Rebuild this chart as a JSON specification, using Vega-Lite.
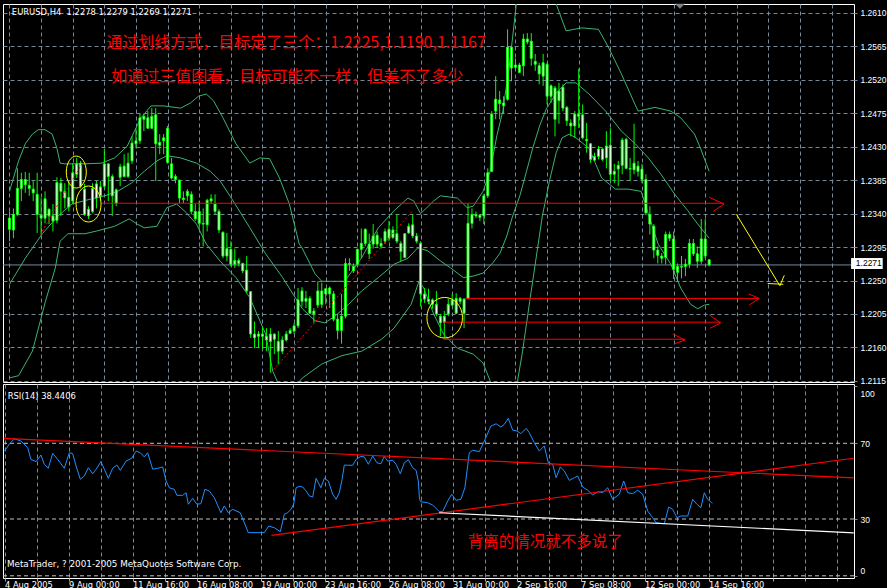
{
"$schema":"https://vega.github.io/schema/vega-lite/v6.json",
"background":"#000000",
"padding":{"left":2,"top":3,"right":0,"bottom":0},
"autosize":{"type":"pad"},
"bounds":"flush",
"spacing":2,
"config":{"view":{"stroke":"#ffffff","strokeWidth":1},"font":"DejaVu Sans"},
"datasets":{
"candles":[
{"i":0,"o":1.2334,"h":1.2343,"l":1.2303,"c":1.2319},
{"i":1,"o":1.2318,"h":1.2347,"l":1.2307,"c":1.2339},
{"i":2,"o":1.2339,"h":1.2401,"l":1.2337,"c":1.2374},
{"i":3,"o":1.2374,"h":1.2395,"l":1.2357,"c":1.2386},
{"i":4,"o":1.2386,"h":1.2396,"l":1.2368,"c":1.2379},
{"i":5,"o":1.2378,"h":1.2395,"l":1.2364,"c":1.2374},
{"i":6,"o":1.2373,"h":1.2384,"l":1.2357,"c":1.2368},
{"i":7,"o":1.2366,"h":1.2395,"l":1.2314,"c":1.2339},
{"i":8,"o":1.2334,"h":1.2361,"l":1.2312,"c":1.2338},
{"i":9,"o":1.2334,"h":1.2370,"l":1.2327,"c":1.2360},
{"i":10,"o":1.2346,"h":1.2347,"l":1.2326,"c":1.2337},
{"i":11,"o":1.2337,"h":1.2353,"l":1.2316,"c":1.2330},
{"i":12,"o":1.2331,"h":1.2389,"l":1.2327,"c":1.2382},
{"i":13,"o":1.2381,"h":1.2388,"l":1.2337,"c":1.2370},
{"i":14,"o":1.2370,"h":1.2381,"l":1.2347,"c":1.2361},
{"i":15,"o":1.2362,"h":1.2384,"l":1.2343,"c":1.2349},
{"i":16,"o":1.2357,"h":1.2408,"l":1.2353,"c":1.2395},
{"i":17,"o":1.2393,"h":1.2415,"l":1.2388,"c":1.2407},
{"i":18,"o":1.2408,"h":1.2411,"l":1.2374,"c":1.2377},
{"i":19,"o":1.2373,"h":1.2380,"l":1.2337,"c":1.2339},
{"i":20,"o":1.2337,"h":1.2350,"l":1.2333,"c":1.2346},
{"i":21,"o":1.2343,"h":1.2381,"l":1.2341,"c":1.2374},
{"i":22,"o":1.2361,"h":1.2384,"l":1.2347,"c":1.2380},
{"i":23,"o":1.2376,"h":1.2384,"l":1.2357,"c":1.2364},
{"i":24,"o":1.2377,"h":1.2427,"l":1.2374,"c":1.2407},
{"i":25,"o":1.2407,"h":1.2408,"l":1.2357,"c":1.2390},
{"i":26,"o":1.2390,"h":1.2393,"l":1.2337,"c":1.2364},
{"i":27,"o":1.2354,"h":1.2374,"l":1.2350,"c":1.2372},
{"i":28,"o":1.2389,"h":1.2407,"l":1.2377,"c":1.2403},
{"i":29,"o":1.2390,"h":1.2420,"l":1.2389,"c":1.2404},
{"i":30,"o":1.2390,"h":1.2422,"l":1.2388,"c":1.2408},
{"i":31,"o":1.2411,"h":1.2444,"l":1.2407,"c":1.2435},
{"i":32,"o":1.2434,"h":1.2455,"l":1.2428,"c":1.2438},
{"i":33,"o":1.2438,"h":1.2474,"l":1.2434,"c":1.2469},
{"i":34,"o":1.2471,"h":1.2474,"l":1.2451,"c":1.2467},
{"i":35,"o":1.2469,"h":1.2478,"l":1.2454,"c":1.2455},
{"i":36,"o":1.2455,"h":1.2482,"l":1.2454,"c":1.2471},
{"i":37,"o":1.2473,"h":1.2482,"l":1.2384,"c":1.2434},
{"i":38,"o":1.2436,"h":1.2447,"l":1.2420,"c":1.2432},
{"i":39,"o":1.2438,"h":1.2447,"l":1.2420,"c":1.2442},
{"i":40,"o":1.2455,"h":1.2458,"l":1.2407,"c":1.2409},
{"i":41,"o":1.2407,"h":1.2415,"l":1.2386,"c":1.2388},
{"i":42,"o":1.2390,"h":1.2393,"l":1.2381,"c":1.2386},
{"i":43,"o":1.2385,"h":1.2386,"l":1.2354,"c":1.2361},
{"i":44,"o":1.2361,"h":1.2370,"l":1.2354,"c":1.2359},
{"i":45,"o":1.2364,"h":1.2373,"l":1.2357,"c":1.2370},
{"i":46,"o":1.2366,"h":1.2370,"l":1.2339,"c":1.2343},
{"i":47,"o":1.2343,"h":1.2353,"l":1.2330,"c":1.2333},
{"i":48,"o":1.2327,"h":1.2357,"l":1.2320,"c":1.2343},
{"i":49,"o":1.2327,"h":1.2347,"l":1.2296,"c":1.2326},
{"i":50,"o":1.2325,"h":1.2360,"l":1.2316,"c":1.2358},
{"i":51,"o":1.2357,"h":1.2366,"l":1.2353,"c":1.2360},
{"i":52,"o":1.2353,"h":1.2366,"l":1.2339,"c":1.2343},
{"i":53,"o":1.2343,"h":1.2346,"l":1.2314,"c":1.2318},
{"i":54,"o":1.2315,"h":1.2316,"l":1.2280,"c":1.2283},
{"i":55,"o":1.2283,"h":1.2314,"l":1.2276,"c":1.2293},
{"i":56,"o":1.2292,"h":1.2303,"l":1.2269,"c":1.2272},
{"i":57,"o":1.2272,"h":1.2293,"l":1.2267,"c":1.2277},
{"i":58,"o":1.2277,"h":1.2280,"l":1.2269,"c":1.2273},
{"i":59,"o":1.2273,"h":1.2274,"l":1.2260,"c":1.2263},
{"i":60,"o":1.2264,"h":1.2283,"l":1.2233,"c":1.2236},
{"i":61,"o":1.2235,"h":1.2236,"l":1.2173,"c":1.2178},
{"i":62,"o":1.2178,"h":1.2195,"l":1.2159,"c":1.2173},
{"i":63,"o":1.2175,"h":1.2182,"l":1.2159,"c":1.2178},
{"i":64,"o":1.2178,"h":1.2186,"l":1.2158,"c":1.2175},
{"i":65,"o":1.2175,"h":1.2186,"l":1.2155,"c":1.2170},
{"i":66,"o":1.2168,"h":1.2186,"l":1.2126,"c":1.2178},
{"i":67,"o":1.2178,"h":1.2179,"l":1.2151,"c":1.2171},
{"i":68,"o":1.2168,"h":1.2182,"l":1.2137,"c":1.2155},
{"i":69,"o":1.2155,"h":1.2175,"l":1.2151,"c":1.2170},
{"i":70,"o":1.2170,"h":1.2182,"l":1.2168,"c":1.2178},
{"i":71,"o":1.2179,"h":1.2186,"l":1.2178,"c":1.2183},
{"i":72,"o":1.2182,"h":1.2193,"l":1.2178,"c":1.2189},
{"i":73,"o":1.2189,"h":1.2240,"l":1.2186,"c":1.2224},
{"i":74,"o":1.2222,"h":1.2241,"l":1.2215,"c":1.2236},
{"i":75,"o":1.2226,"h":1.2236,"l":1.2213,"c":1.2222},
{"i":76,"o":1.2226,"h":1.2229,"l":1.2205,"c":1.2206},
{"i":77,"o":1.2205,"h":1.2213,"l":1.2193,"c":1.2209},
{"i":78,"o":1.2217,"h":1.2249,"l":1.2213,"c":1.2236},
{"i":79,"o":1.2236,"h":1.2247,"l":1.2213,"c":1.2218},
{"i":80,"o":1.2232,"h":1.2240,"l":1.2218,"c":1.2239},
{"i":81,"o":1.2232,"h":1.2242,"l":1.2213,"c":1.2240},
{"i":82,"o":1.2232,"h":1.2236,"l":1.2195,"c":1.2198},
{"i":83,"o":1.2198,"h":1.2205,"l":1.2171,"c":1.2183},
{"i":84,"o":1.2183,"h":1.2232,"l":1.2165,"c":1.2202},
{"i":85,"o":1.2202,"h":1.2280,"l":1.2199,"c":1.2273},
{"i":86,"o":1.2273,"h":1.2280,"l":1.2263,"c":1.2272},
{"i":87,"o":1.2269,"h":1.2273,"l":1.2260,"c":1.2263},
{"i":88,"o":1.2272,"h":1.2293,"l":1.2269,"c":1.2292},
{"i":89,"o":1.2292,"h":1.2320,"l":1.2280,"c":1.2300},
{"i":90,"o":1.2300,"h":1.2320,"l":1.2296,"c":1.2319},
{"i":91,"o":1.2299,"h":1.2313,"l":1.2279,"c":1.2286},
{"i":92,"o":1.2299,"h":1.2326,"l":1.2293,"c":1.2310},
{"i":93,"o":1.2311,"h":1.2316,"l":1.2295,"c":1.2299},
{"i":94,"o":1.2300,"h":1.2307,"l":1.2293,"c":1.2296},
{"i":95,"o":1.2303,"h":1.2320,"l":1.2299,"c":1.2316},
{"i":96,"o":1.2307,"h":1.2330,"l":1.2303,"c":1.2319},
{"i":97,"o":1.2318,"h":1.2323,"l":1.2306,"c":1.2308},
{"i":98,"o":1.2313,"h":1.2339,"l":1.2300,"c":1.2303},
{"i":99,"o":1.2300,"h":1.2303,"l":1.2276,"c":1.2289},
{"i":100,"o":1.2281,"h":1.2314,"l":1.2280,"c":1.2313},
{"i":101,"o":1.2314,"h":1.2327,"l":1.2313,"c":1.2323},
{"i":102,"o":1.2325,"h":1.2339,"l":1.2307,"c":1.2310},
{"i":103,"o":1.2310,"h":1.2314,"l":1.2300,"c":1.2303},
{"i":104,"o":1.2300,"h":1.2303,"l":1.2215,"c":1.2232},
{"i":105,"o":1.2232,"h":1.2240,"l":1.2220,"c":1.2225},
{"i":106,"o":1.2225,"h":1.2239,"l":1.2218,"c":1.2222},
{"i":107,"o":1.2224,"h":1.2226,"l":1.2212,"c":1.2218},
{"i":108,"o":1.2218,"h":1.2236,"l":1.2202,"c":1.2205},
{"i":109,"o":1.2202,"h":1.2205,"l":1.2175,"c":1.2193},
{"i":110,"o":1.2194,"h":1.2209,"l":1.2173,"c":1.2202},
{"i":111,"o":1.2205,"h":1.2226,"l":1.2202,"c":1.2218},
{"i":112,"o":1.2217,"h":1.2232,"l":1.2215,"c":1.2224},
{"i":113,"o":1.2206,"h":1.2233,"l":1.2205,"c":1.2226},
{"i":114,"o":1.2226,"h":1.2228,"l":1.2218,"c":1.2222},
{"i":115,"o":1.2206,"h":1.2226,"l":1.2186,"c":1.2225},
{"i":116,"o":1.2226,"h":1.2354,"l":1.2225,"c":1.2327},
{"i":117,"o":1.2327,"h":1.2347,"l":1.2320,"c":1.2339},
{"i":118,"o":1.2339,"h":1.2343,"l":1.2334,"c":1.2337},
{"i":119,"o":1.2335,"h":1.2339,"l":1.2330,"c":1.2338},
{"i":120,"o":1.2337,"h":1.2366,"l":1.2326,"c":1.2364},
{"i":121,"o":1.2364,"h":1.2401,"l":1.2361,"c":1.2395},
{"i":122,"o":1.2397,"h":1.2478,"l":1.2396,"c":1.2474},
{"i":123,"o":1.2478,"h":1.2525,"l":1.2467,"c":1.2494},
{"i":124,"o":1.2493,"h":1.2505,"l":1.2467,"c":1.2488},
{"i":125,"o":1.2485,"h":1.2498,"l":1.2474,"c":1.2489},
{"i":126,"o":1.2494,"h":1.2588,"l":1.2492,"c":1.2564},
{"i":127,"o":1.2564,"h":1.2566,"l":1.2518,"c":1.2536},
{"i":128,"o":1.2537,"h":1.2549,"l":1.2536,"c":1.2540},
{"i":129,"o":1.2540,"h":1.2543,"l":1.2529,"c":1.2530},
{"i":130,"o":1.2539,"h":1.2582,"l":1.2525,"c":1.2575},
{"i":131,"o":1.2575,"h":1.2583,"l":1.2568,"c":1.2571},
{"i":132,"o":1.2572,"h":1.2583,"l":1.2539,"c":1.2549},
{"i":133,"o":1.2545,"h":1.2555,"l":1.2532,"c":1.2541},
{"i":134,"o":1.2539,"h":1.2543,"l":1.2514,"c":1.2528},
{"i":135,"o":1.2525,"h":1.2555,"l":1.2512,"c":1.2543},
{"i":136,"o":1.2541,"h":1.2543,"l":1.2487,"c":1.2498},
{"i":137,"o":1.2498,"h":1.2514,"l":1.2489,"c":1.2512},
{"i":138,"o":1.2509,"h":1.2512,"l":1.2444,"c":1.2467},
{"i":139,"o":1.2492,"h":1.2516,"l":1.2461,"c":1.2505},
{"i":140,"o":1.2510,"h":1.2514,"l":1.2478,"c":1.2482},
{"i":141,"o":1.2483,"h":1.2485,"l":1.2458,"c":1.2465},
{"i":142,"o":1.2462,"h":1.2467,"l":1.2444,"c":1.2458},
{"i":143,"o":1.2458,"h":1.2478,"l":1.2442,"c":1.2474},
{"i":144,"o":1.2474,"h":1.2535,"l":1.2455,"c":1.2471},
{"i":145,"o":1.2473,"h":1.2487,"l":1.2440,"c":1.2442},
{"i":146,"o":1.2440,"h":1.2462,"l":1.2422,"c":1.2438},
{"i":147,"o":1.2434,"h":1.2435,"l":1.2408,"c":1.2413},
{"i":148,"o":1.2412,"h":1.2422,"l":1.2411,"c":1.2417},
{"i":149,"o":1.2417,"h":1.2431,"l":1.2413,"c":1.2427},
{"i":150,"o":1.2427,"h":1.2428,"l":1.2411,"c":1.2413},
{"i":151,"o":1.2415,"h":1.2451,"l":1.2401,"c":1.2431},
{"i":152,"o":1.2432,"h":1.2455,"l":1.2384,"c":1.2393},
{"i":153,"o":1.2393,"h":1.2407,"l":1.2381,"c":1.2397},
{"i":154,"o":1.2400,"h":1.2411,"l":1.2377,"c":1.2405},
{"i":155,"o":1.2405,"h":1.2442,"l":1.2393,"c":1.2439},
{"i":156,"o":1.2440,"h":1.2442,"l":1.2400,"c":1.2401},
{"i":157,"o":1.2401,"h":1.2415,"l":1.2384,"c":1.2400},
{"i":158,"o":1.2399,"h":1.2461,"l":1.2393,"c":1.2408},
{"i":159,"o":1.2404,"h":1.2411,"l":1.2390,"c":1.2397},
{"i":160,"o":1.2400,"h":1.2407,"l":1.2381,"c":1.2386},
{"i":161,"o":1.2386,"h":1.2393,"l":1.2338,"c":1.2341},
{"i":162,"o":1.2339,"h":1.2350,"l":1.2312,"c":1.2326},
{"i":163,"o":1.2323,"h":1.2326,"l":1.2280,"c":1.2291},
{"i":164,"o":1.2291,"h":1.2296,"l":1.2273,"c":1.2284},
{"i":165,"o":1.2283,"h":1.2287,"l":1.2273,"c":1.2280},
{"i":166,"o":1.2281,"h":1.2316,"l":1.2272,"c":1.2312},
{"i":167,"o":1.2312,"h":1.2316,"l":1.2303,"c":1.2307},
{"i":168,"o":1.2306,"h":1.2316,"l":1.2252,"c":1.2265},
{"i":169,"o":1.2261,"h":1.2273,"l":1.2249,"c":1.2269},
{"i":170,"o":1.2269,"h":1.2283,"l":1.2253,"c":1.2268},
{"i":171,"o":1.2269,"h":1.2279,"l":1.2256,"c":1.2272},
{"i":172,"o":1.2272,"h":1.2306,"l":1.2267,"c":1.2300},
{"i":173,"o":1.2300,"h":1.2306,"l":1.2283,"c":1.2286},
{"i":174,"o":1.2286,"h":1.2296,"l":1.2267,"c":1.2276},
{"i":175,"o":1.2276,"h":1.2333,"l":1.2272,"c":1.2306},
{"i":176,"o":1.2306,"h":1.2333,"l":1.2280,"c":1.2283},
{"i":177,"o":1.2278,"h":1.2279,"l":1.2269,"c":1.2271}
],
"bb":[
{"b":"u","i":0,"v":1.2370},{"b":"u","i":2.3,"v":1.2411},{"b":"u","i":4,"v":1.2434},{"b":"u","i":5.8,"v":1.2447},{"b":"u","i":7.3,"v":1.2453},{"b":"u","i":9,"v":1.2453},{"b":"u","i":10.8,"v":1.2447},{"b":"u","i":12,"v":1.2428},{"b":"u","i":12.8,"v":1.2408},{"b":"u","i":14,"v":1.2407},{"b":"u","i":19,"v":1.2407},{"b":"u","i":23.3,"v":1.2408},{"b":"u","i":26.6,"v":1.2415},{"b":"u","i":29.8,"v":1.2431},{"b":"u","i":31.6,"v":1.2451},{"b":"u","i":33.3,"v":1.2469},{"b":"u","i":35.8,"v":1.2485},{"b":"u","i":39,"v":1.2485},{"b":"u","i":43.3,"v":1.2482},{"b":"u","i":45.8,"v":1.2489},{"b":"u","i":47.8,"v":1.2498},{"b":"u","i":49.8,"v":1.2501},{"b":"u","i":51.6,"v":1.2492},{"b":"u","i":54,"v":1.2469},{"b":"u","i":57.3,"v":1.2434},{"b":"u","i":60.8,"v":1.2408},{"b":"u","i":63.3,"v":1.2415},{"b":"u","i":65.8,"v":1.2414},{"b":"u","i":68.3,"v":1.2388},{"b":"u","i":70.8,"v":1.2353},{"b":"u","i":73.3,"v":1.2299},{"b":"u","i":74,"v":1.2294},{"b":"u","i":77.3,"v":1.2259},{"b":"u","i":79,"v":1.2249},{"b":"u","i":84.8,"v":1.2249},{"b":"u","i":89,"v":1.2280},{"b":"u","i":93.3,"v":1.2321},{"b":"u","i":97.3,"v":1.2344},{"b":"u","i":100.8,"v":1.2361},{"b":"u","i":102.3,"v":1.2357},{"b":"u","i":104,"v":1.2340},{"b":"u","i":107.3,"v":1.2357},{"b":"u","i":109,"v":1.2364},{"b":"u","i":113.3,"v":1.2361},{"b":"u","i":115.8,"v":1.2348},{"b":"u","i":117.3,"v":1.2350},{"b":"u","i":119.8,"v":1.2370},{"b":"u","i":121.6,"v":1.2397},{"b":"u","i":123.3,"v":1.2445},{"b":"u","i":124.8,"v":1.2478},{"b":"u","i":126.6,"v":1.2545},{"b":"u","i":128.3,"v":1.2626},{"b":"u","i":129.8,"v":1.2653},{"b":"u","i":131.6,"v":1.2666},{"b":"u","i":134,"v":1.2666},{"b":"u","i":136.6,"v":1.2646},{"b":"u","i":138.3,"v":1.2622},{"b":"u","i":140.8,"v":1.2586},{"b":"u","i":144.8,"v":1.2590},{"b":"u","i":149,"v":1.2588},{"b":"u","i":151.6,"v":1.2563},{"b":"u","i":154.8,"v":1.2528},{"b":"u","i":159,"v":1.2478},{"b":"u","i":163.3,"v":1.2483},{"b":"u","i":167.3,"v":1.2478},{"b":"u","i":169.8,"v":1.2469},{"b":"u","i":173.3,"v":1.2447},{"b":"u","i":174.8,"v":1.2428},{"b":"u","i":177,"v":1.2397},
{"b":"m","i":0,"v":1.2245},{"b":"m","i":4,"v":1.2280},{"b":"m","i":8.3,"v":1.2313},{"b":"m","i":12.3,"v":1.2337},{"b":"m","i":15.8,"v":1.2353},{"b":"m","i":20.8,"v":1.2360},{"b":"m","i":24.1,"v":1.2364},{"b":"m","i":27.3,"v":1.2370},{"b":"m","i":30.8,"v":1.2381},{"b":"m","i":34.1,"v":1.2397},{"b":"m","i":37.3,"v":1.2411},{"b":"m","i":39.8,"v":1.2418},{"b":"m","i":43.3,"v":1.2415},{"b":"m","i":47.3,"v":1.2408},{"b":"m","i":50.8,"v":1.2397},{"b":"m","i":53.3,"v":1.2384},{"b":"m","i":56.6,"v":1.2357},{"b":"m","i":60.8,"v":1.2321},{"b":"m","i":64.8,"v":1.2286},{"b":"m","i":69.1,"v":1.2254},{"b":"m","i":72.3,"v":1.2227},{"b":"m","i":74.1,"v":1.2212},{"b":"m","i":77.3,"v":1.2196},{"b":"m","i":79.8,"v":1.2193},{"b":"m","i":82.3,"v":1.2202},{"b":"m","i":85.8,"v":1.2218},{"b":"m","i":89.1,"v":1.2236},{"b":"m","i":93.3,"v":1.2254},{"b":"m","i":97.3,"v":1.2272},{"b":"m","i":100.8,"v":1.2280},{"b":"m","i":103.3,"v":1.2294},{"b":"m","i":105.8,"v":1.2290},{"b":"m","i":109.1,"v":1.2276},{"b":"m","i":111.6,"v":1.2267},{"b":"m","i":114.8,"v":1.2254},{"b":"m","i":117.3,"v":1.2256},{"b":"m","i":119.8,"v":1.2260},{"b":"m","i":122.3,"v":1.2274},{"b":"m","i":124.1,"v":1.2287},{"b":"m","i":125.8,"v":1.2310},{"b":"m","i":127.3,"v":1.2337},{"b":"m","i":129.1,"v":1.2364},{"b":"m","i":130.8,"v":1.2397},{"b":"m","i":132.3,"v":1.2427},{"b":"m","i":134.1,"v":1.2458},{"b":"m","i":135.8,"v":1.2481},{"b":"m","i":138.3,"v":1.2502},{"b":"m","i":140.8,"v":1.2516},{"b":"m","i":143.3,"v":1.2516},{"b":"m","i":146.6,"v":1.2501},{"b":"m","i":150.8,"v":1.2478},{"b":"m","i":154.8,"v":1.2451},{"b":"m","i":158.3,"v":1.2434},{"b":"m","i":161.6,"v":1.2415},{"b":"m","i":164.8,"v":1.2393},{"b":"m","i":168.3,"v":1.2366},{"b":"m","i":171.6,"v":1.2344},{"b":"m","i":174.1,"v":1.2326},{"b":"m","i":177,"v":1.2307},
{"b":"l","i":0,"v":1.2119},{"b":"l","i":2.3,"v":1.2122},{"b":"l","i":5.8,"v":1.2155},{"b":"l","i":9.1,"v":1.2222},{"b":"l","i":11.6,"v":1.2267},{"b":"l","i":12.8,"v":1.2303},{"b":"l","i":14.8,"v":1.2313},{"b":"l","i":19.1,"v":1.2313},{"b":"l","i":22.3,"v":1.2317},{"b":"l","i":26.6,"v":1.2323},{"b":"l","i":30.3,"v":1.2333},{"b":"l","i":32.3,"v":1.2326},{"b":"l","i":34.1,"v":1.2321},{"b":"l","i":37.3,"v":1.2323},{"b":"l","i":39.8,"v":1.2348},{"b":"l","i":42.3,"v":1.2353},{"b":"l","i":44.8,"v":1.2341},{"b":"l","i":47.3,"v":1.2326},{"b":"l","i":49.8,"v":1.2299},{"b":"l","i":53.3,"v":1.2276},{"b":"l","i":57.3,"v":1.2254},{"b":"l","i":60.8,"v":1.2227},{"b":"l","i":64.8,"v":1.2178},{"b":"l","i":66.6,"v":1.2128},{"b":"l","i":68.3,"v":1.2108},{"b":"l","i":70.3,"v":1.2099},{"b":"l","i":72.1,"v":1.2107},{"b":"l","i":74.1,"v":1.2119},{"b":"l","i":79.1,"v":1.2138},{"b":"l","i":84.1,"v":1.2149},{"b":"l","i":89.1,"v":1.2155},{"b":"l","i":94.1,"v":1.2171},{"b":"l","i":97.3,"v":1.2186},{"b":"l","i":101.6,"v":1.2218},{"b":"l","i":103.6,"v":1.2249},{"b":"l","i":104.8,"v":1.2240},{"b":"l","i":107.3,"v":1.2205},{"b":"l","i":109.8,"v":1.2178},{"b":"l","i":113.3,"v":1.2159},{"b":"l","i":117.3,"v":1.2151},{"b":"l","i":119.8,"v":1.2139},{"b":"l","i":121.6,"v":1.2115},{"b":"l","i":123.3,"v":1.2099},{"b":"l","i":125.3,"v":1.2088},{"b":"l","i":127.1,"v":1.2091},{"b":"l","i":128.3,"v":1.2108},{"b":"l","i":129.8,"v":1.2155},{"b":"l","i":131.6,"v":1.2222},{"b":"l","i":133.3,"v":1.2283},{"b":"l","i":134.8,"v":1.2337},{"b":"l","i":136.6,"v":1.2384},{"b":"l","i":138.3,"v":1.2422},{"b":"l","i":139.8,"v":1.2442},{"b":"l","i":141.6,"v":1.2447},{"b":"l","i":143.3,"v":1.2442},{"b":"l","i":146.6,"v":1.2428},{"b":"l","i":149.8,"v":1.2388},{"b":"l","i":153.3,"v":1.2373},{"b":"l","i":156.6,"v":1.2373},{"b":"l","i":159.8,"v":1.2370},{"b":"l","i":161.6,"v":1.2340},{"b":"l","i":164.1,"v":1.2299},{"b":"l","i":167.3,"v":1.2272},{"b":"l","i":169.8,"v":1.2240},{"b":"l","i":172.3,"v":1.2218},{"b":"l","i":174.1,"v":1.2212},{"b":"l","i":175.8,"v":1.2217},{"b":"l","i":177,"v":1.2218}
],
"rsi":[
{"i":0,"r":65.9},{"i":1.2,"r":69.5},{"i":2.45,"r":72.4},{"i":4.1,"r":71.2},{"i":5.8,"r":67.7},{"i":6.6,"r":61.5},{"i":7.9,"r":60.3},{"i":9.1,"r":63.8},{"i":9.95,"r":58.9},{"i":10.95,"r":56.8},{"i":12.05,"r":64.7},{"i":13.3,"r":61.5},{"i":14.95,"r":56.8},{"i":16.2,"r":65.0},{"i":17.05,"r":64.5},{"i":17.9,"r":58.0},{"i":18.95,"r":51.0},{"i":19.95,"r":52.7},{"i":20.95,"r":57.1},{"i":22.05,"r":53.9},{"i":23.3,"r":57.5},{"i":24.1,"r":60.3},{"i":24.95,"r":56.3},{"i":25.95,"r":51.5},{"i":27.05,"r":56.8},{"i":28.1,"r":58.5},{"i":28.95,"r":55.7},{"i":30.4,"r":60.6},{"i":31.8,"r":62.1},{"i":32.9,"r":65.9},{"i":33.95,"r":65.0},{"i":34.95,"r":62.8},{"i":35.8,"r":65.0},{"i":37.05,"r":56.3},{"i":38.3,"r":56.8},{"i":39.55,"r":57.5},{"i":40.4,"r":50.1},{"i":41.2,"r":46.5},{"i":42.45,"r":45.7},{"i":43.1,"r":42.5},{"i":44.55,"r":42.5},{"i":45.4,"r":43.9},{"i":45.95,"r":37.8},{"i":47.05,"r":40.9},{"i":48.1,"r":37.8},{"i":49.1,"r":38.1},{"i":50.1,"r":45.7},{"i":51.2,"r":44.8},{"i":52.45,"r":41.3},{"i":54.1,"r":33.3},{"i":54.95,"r":36.9},{"i":55.95,"r":33.3},{"i":57.05,"r":35.1},{"i":58.95,"r":33.3},{"i":60.95,"r":22.8},{"i":64.95,"r":22.8},{"i":66.05,"r":26.3},{"i":67.45,"r":25.4},{"i":68.95,"r":23.3},{"i":69.95,"r":32.5},{"i":70.8,"r":33.3},{"i":71.6,"r":35.1},{"i":72.3,"r":37.8},{"i":72.9,"r":46.5},{"i":73.7,"r":47.3},{"i":74.55,"r":46.9},{"i":75.4,"r":44.8},{"i":76.2,"r":42.2},{"i":77.05,"r":41.6},{"i":77.9,"r":51.5},{"i":78.45,"r":49.2},{"i":79.1,"r":46.5},{"i":79.95,"r":51.5},{"i":80.95,"r":50.1},{"i":82.05,"r":43.1},{"i":82.9,"r":40.4},{"i":83.7,"r":43.9},{"i":84.4,"r":51.0},{"i":84.95,"r":58.5},{"i":85.8,"r":58.4},{"i":87.05,"r":58.4},{"i":87.9,"r":61.5},{"i":89.1,"r":63.1},{"i":89.95,"r":62.8},{"i":90.95,"r":58.9},{"i":92.05,"r":63.3},{"i":93.1,"r":59.7},{"i":94.1,"r":59.2},{"i":94.95,"r":63.1},{"i":95.8,"r":60.6},{"i":97.05,"r":61.0},{"i":97.9,"r":58.9},{"i":98.95,"r":53.9},{"i":99.95,"r":59.7},{"i":100.95,"r":61.3},{"i":102.05,"r":57.1},{"i":102.9,"r":55.7},{"i":103.45,"r":50.1},{"i":103.75,"r":40.4},{"i":104.1,"r":39.1},{"i":105.8,"r":38.6},{"i":107.05,"r":37.4},{"i":108.7,"r":33.9},{"i":109.55,"r":33.9},{"i":110.8,"r":39.5},{"i":111.8,"r":43.1},{"i":112.9,"r":39.9},{"i":114.1,"r":40.4},{"i":115.1,"r":46.5},{"i":116.2,"r":65.0},{"i":117.05,"r":66.3},{"i":118.7,"r":65.6},{"i":119.95,"r":71.2},{"i":121.6,"r":79.1},{"i":122.9,"r":80.3},{"i":124.1,"r":78.6},{"i":124.95,"r":80.0},{"i":125.95,"r":83.2},{"i":127.05,"r":76.9},{"i":128.1,"r":76.5},{"i":129.1,"r":75.1},{"i":130.4,"r":77.9},{"i":131.2,"r":75.6},{"i":132.45,"r":70.3},{"i":133.7,"r":65.9},{"i":134.95,"r":68.6},{"i":135.95,"r":59.7},{"i":137.05,"r":58.9},{"i":137.9,"r":51.8},{"i":138.95,"r":57.5},{"i":139.95,"r":55.4},{"i":141.2,"r":50.4},{"i":142.45,"r":51.8},{"i":143.3,"r":52.7},{"i":144.55,"r":46.9},{"i":145.8,"r":45.2},{"i":147.05,"r":42.7},{"i":148.3,"r":44.4},{"i":149.55,"r":43.9},{"i":150.8,"r":46.5},{"i":152.05,"r":40.4},{"i":153.7,"r":43.1},{"i":154.8,"r":50.1},{"i":155.8,"r":43.9},{"i":157.05,"r":43.4},{"i":158.3,"r":45.2},{"i":159.55,"r":43.1},{"i":160.8,"r":34.2},{"i":162.05,"r":30.7},{"i":162.9,"r":28.1},{"i":164.95,"r":27.5},{"i":166.05,"r":36.3},{"i":167.05,"r":35.1},{"i":168.1,"r":30.7},{"i":169.1,"r":31.6},{"i":170.8,"r":31.6},{"i":172.05,"r":40.4},{"i":173.1,"r":37.8},{"i":174.1,"r":36.0},{"i":174.95,"r":43.9},{"i":175.8,"r":40.4},{"i":176.8,"r":38.6},{"i":177,"r":38.44}
],
"redSeg":[
{"i":23.3,"v":1.2354,"i2":180.8,"v2":1.2354},
{"i":177,"v":1.2362,"i2":180.75,"v2":1.2353},
{"i":178,"v":1.2343,"i2":180.75,"v2":1.2353},
{"i":115.3,"v":1.2226,"i2":189.65,"v2":1.2226},
{"i":187,"v":1.2232,"i2":189.65,"v2":1.2226},
{"i":187.15,"v":1.2217,"i2":189.65,"v2":1.2226},
{"i":109.8,"v":1.2194,"i2":179.9,"v2":1.2194},
{"i":177,"v":1.2204,"i2":179.9,"v2":1.2193},
{"i":177.25,"v":1.2186,"i2":179.9,"v2":1.2193},
{"i":109.8,"v":1.2171,"i2":170.9,"v2":1.2171},
{"i":167.8,"v":1.2178,"i2":170.9,"v2":1.2170},
{"i":168.25,"v":1.2165,"i2":170.9,"v2":1.2170}
],
"dotSeg":[
{"i":7.8,"v":1.2312,"i2":18.65,"v2":1.2410},
{"i":66.15,"v":1.2126,"i2":102,"v2":1.2344}
],
"yelSeg":[
{"i":183.9,"v":1.2339,"i2":194.9,"v2":1.2243},
{"i":191.8,"v":1.2246,"i2":195.75,"v2":1.2245},
{"i":194.9,"v":1.2243,"i2":196,"v2":1.2257}
],
"rsiRed":[
{"i":-0.2,"r":72.6,"i2":212.3,"r2":51.7},
{"i":66.75,"r":21.4,"i2":212.3,"r2":62.1}
],
"rsiWhite":[
{"i":108.65,"r":33.3,"i2":212.3,"r2":22.7}
],
"levels":[{"r":70},{"r":30},{"r":0}]
},
"vconcat":[
{
"width":851,"height":378,
"layer":[
{"data":{"values":[{"v":1.2271}]},"mark":{"type":"rule","color":"#778899","strokeWidth":1},
 "encoding":{"y":{"field":"v","type":"quantitative","title":null,"scale":{"domain":[1.21135,1.26221],"nice":false,"zero":false}}}},
{"data":{"name":"bb"},"mark":{"type":"line","color":"#3cb371","strokeWidth":1,"clip":true},
 "encoding":{
  "x":{"field":"i","type":"quantitative","title":null,"scale":{"domain":[-0.375,212.375],"nice":false,"zero":false},
   "axis":{"values":[0,8,16,24,32,40,48,56,64,72,80,88,96,104,112,120,128,136,144,152,160,168,176,184,192,200,208],"tickCount":100,"grid":true,"gridColor":"#778899","gridDash":[4,3],"labels":false,"ticks":false,"domain":false,"title":null}},
  "y":{"field":"v","type":"quantitative","title":null,"scale":{"domain":[1.21135,1.26221],"nice":false,"zero":false},
   "axis":{"orient":"right","values":[1.2115,1.216,1.2205,1.225,1.2295,1.234,1.2385,1.243,1.2475,1.252,1.2565,1.261],"tickCount":100,"format":".4f","grid":true,"gridColor":"#778899","gridDash":[4,3],"domain":false,"ticks":true,"tickSize":3,"tickColor":"#778899","labelColor":"#ffffff","labelFont":"Liberation Sans","labelFontSize":8.5,"labelPadding":3,"labelOverlap":false,"labelBound":false,"labelFlush":false,"title":null}},
  "detail":{"field":"b"}}},
{"data":{"name":"candles"},"mark":{"type":"rule","color":"#00ff00","strokeWidth":1},
 "encoding":{"x":{"field":"i","type":"quantitative","title":null,"scale":{"domain":[-0.375,212.375],"nice":false,"zero":false}},
  "y":{"field":"l","type":"quantitative","title":null,"scale":{"domain":[1.21135,1.26221],"nice":false,"zero":false}},
  "y2":{"field":"h"}}},
{"data":{"name":"candles"},"mark":{"type":"bar","width":2,"fill":"#ffffff","stroke":"#00ff00","strokeWidth":1},
 "encoding":{"x":{"field":"i","type":"quantitative","title":null,"scale":{"domain":[-0.375,212.375],"nice":false,"zero":false}},
  "y":{"field":"o","type":"quantitative","title":null,"scale":{"domain":[1.21135,1.26221],"nice":false,"zero":false}},
  "y2":{"field":"c"}}},
{"data":{"name":"redSeg"},"mark":{"type":"rule","color":"#ff0000","strokeWidth":1},
 "encoding":{"x":{"field":"i","type":"quantitative","title":null,"scale":{"domain":[-0.375,212.375],"nice":false,"zero":false}},
  "y":{"field":"v","type":"quantitative","title":null,"scale":{"domain":[1.21135,1.26221],"nice":false,"zero":false}},
  "x2":{"field":"i2"},"y2":{"field":"v2"}}},
{"data":{"name":"dotSeg"},"mark":{"type":"rule","color":"#ff0000","strokeWidth":1,"strokeDash":[2,2]},
 "encoding":{"x":{"field":"i","type":"quantitative","title":null,"scale":{"domain":[-0.375,212.375],"nice":false,"zero":false}},
  "y":{"field":"v","type":"quantitative","title":null,"scale":{"domain":[1.21135,1.26221],"nice":false,"zero":false}},
  "x2":{"field":"i2"},"y2":{"field":"v2"}}},
{"data":{"name":"yelSeg"},"mark":{"type":"rule","color":"#ffff00","strokeWidth":1},
 "encoding":{"x":{"field":"i","type":"quantitative","title":null,"scale":{"domain":[-0.375,212.375],"nice":false,"zero":false}},
  "y":{"field":"v","type":"quantitative","title":null,"scale":{"domain":[1.21135,1.26221],"nice":false,"zero":false}},
  "x2":{"field":"i2"},"y2":{"field":"v2"}}},
{"data":{"values":[{"i":16.9,"v":1.2396}]},"mark":{"type":"point","filled":false,"stroke":"#ffff00","strokeWidth":1,"opacity":1,"size":1024,"shape":"M -0.625 0 A 0.625 1 0 1 1 0.625 0 A 0.625 1 0 1 1 -0.625 0 Z"},
 "encoding":{"x":{"field":"i","type":"quantitative","title":null,"scale":{"domain":[-0.375,212.375],"nice":false,"zero":false}},
  "y":{"field":"v","type":"quantitative","title":null,"scale":{"domain":[1.21135,1.26221],"nice":false,"zero":false}}}},
{"data":{"values":[{"i":20,"v":1.2353}]},"mark":{"type":"point","filled":false,"stroke":"#ffff00","strokeWidth":1,"opacity":1,"size":1296,"shape":"M -0.694 0 A 0.694 1 0 1 1 0.694 0 A 0.694 1 0 1 1 -0.694 0 Z"},
 "encoding":{"x":{"field":"i","type":"quantitative","title":null,"scale":{"domain":[-0.375,212.375],"nice":false,"zero":false}},
  "y":{"field":"v","type":"quantitative","title":null,"scale":{"domain":[1.21135,1.26221],"nice":false,"zero":false}}}},
{"data":{"values":[{"i":110.1,"v":1.2200}]},"mark":{"type":"point","filled":false,"stroke":"#ffff00","strokeWidth":1,"opacity":1,"size":1648,"shape":"M -0.877 0 A 0.877 1 0 1 1 0.877 0 A 0.877 1 0 1 1 -0.877 0 Z"},
 "encoding":{"x":{"field":"i","type":"quantitative","title":null,"scale":{"domain":[-0.375,212.375],"nice":false,"zero":false}},
  "y":{"field":"v","type":"quantitative","title":null,"scale":{"domain":[1.21135,1.26221],"nice":false,"zero":false}}}},
{"data":{"values":[{"i":169.6,"v":1.2619}]},"mark":{"type":"point","filled":true,"color":"#808080","opacity":1,"size":100,"shape":"M -1 -0.5 L 1 -0.5 L 0 0.5 Z"},
 "encoding":{"x":{"field":"i","type":"quantitative","title":null,"scale":{"domain":[-0.375,212.375],"nice":false,"zero":false}},
  "y":{"field":"v","type":"quantitative","title":null,"scale":{"domain":[1.21135,1.26221],"nice":false,"zero":false}}}},
{"data":{"values":[{"i":0.6,"v":1.2612,"t":"EURUSD,H4\u00a0 1.2278 1.2279 1.2269 1.2271"}]},"mark":{"type":"text","align":"left","baseline":"middle","color":"#ffffff","font":"DejaVu Sans","fontSize":8.4},
 "encoding":{"x":{"field":"i","type":"quantitative","title":null,"scale":{"domain":[-0.375,212.375],"nice":false,"zero":false}},
  "y":{"field":"v","type":"quantitative","title":null,"scale":{"domain":[1.21135,1.26221],"nice":false,"zero":false}},"text":{"field":"t"}}},
{"data":{"values":[{"i":24.5,"v":1.2569,"t":"通过划线方式，目标定了三个：1.2225,1.1190,1.1167"},{"i":25.75,"v":1.2524,"t":"如通过三值图看，目标可能不一样，但差不了多少"}]},"mark":{"type":"text","align":"left","baseline":"middle","color":"#ff0000","font":"Noto Sans CJK SC","fontSize":16},
 "encoding":{"x":{"field":"i","type":"quantitative","title":null,"scale":{"domain":[-0.375,212.375],"nice":false,"zero":false}},
  "y":{"field":"v","type":"quantitative","title":null,"scale":{"domain":[1.21135,1.26221],"nice":false,"zero":false}},"text":{"field":"t"}}},
{"data":{"values":[{"i":212.9,"i2":220.9,"v":1.22803,"v2":1.22655}]},"mark":{"type":"rect","fill":"#ffffff","clip":false},
 "encoding":{"x":{"field":"i","type":"quantitative","title":null,"scale":{"domain":[-0.375,212.375],"nice":false,"zero":false}},
  "y":{"field":"v","type":"quantitative","title":null,"scale":{"domain":[1.21135,1.26221],"nice":false,"zero":false}},
  "x2":{"field":"i2"},"y2":{"field":"v2"}}},
{"data":{"values":[{"i":214.1,"v":1.2273,"t":"1.2271"}]},"mark":{"type":"text","align":"left","baseline":"middle","color":"#000000","font":"Liberation Sans","fontSize":8.5,"clip":false},
 "encoding":{"x":{"field":"i","type":"quantitative","title":null,"scale":{"domain":[-0.375,212.375],"nice":false,"zero":false}},
  "y":{"field":"v","type":"quantitative","title":null,"scale":{"domain":[1.21135,1.26221],"nice":false,"zero":false}},"text":{"field":"t"}}}
]
},
{
"width":851,"height":194,
"layer":[
{"data":{"name":"levels"},"mark":{"type":"rule","color":"#c0c0c0","strokeWidth":1,"strokeDash":[4,3]},
 "encoding":{"y":{"field":"r","type":"quantitative","title":null,"scale":{"domain":[-1.16,101.32],"nice":false,"zero":false},
  "axis":{"orient":"right","values":[0,30,70,100],"tickCount":100,"grid":false,"domain":false,"ticks":true,"tickSize":3,"tickColor":"#778899","labelColor":"#ffffff","labelFont":"Liberation Sans","labelFontSize":8.5,"labelPadding":3,"labelOverlap":false,"labelBound":false,"labelFlush":false,"title":null,
   "labelOffset":{"condition":{"test":"datum.value == 100","value":7},"value":0},
   "labelBaseline":{"condition":{"test":"datum.value == 0","value":"bottom"},"value":"middle"}}}}},
{"data":{"name":"rsi"},"mark":{"type":"line","color":"#1e90ff","strokeWidth":1},
 "encoding":{"x":{"field":"i","type":"quantitative","title":null,"scale":{"domain":[-0.375,212.375],"nice":false,"zero":false},
   "axis":{"values":[0,8,16,24,32,40,48,56,64,72,80,88,96,104,112,120,128,136,144,152,160,168,176,184,192,200,208],"tickCount":100,"grid":true,"gridColor":"#778899","gridDash":[4,3],"domain":false,"ticks":true,"tickSize":3,"tickColor":"#a0a0a0","labelAlign":"left","labelColor":"#ffffff","labelFont":"DejaVu Sans","labelFontSize":8.3,"labelPadding":-1,"labelOverlap":false,"labelFlush":false,"labelBound":false,"title":null,
    "labelExpr":"datum.value % 16 == 0 && datum.value <= 176 ? ['4 Aug 2005','9 Aug 00:00','11 Aug 16:00','16 Aug 08:00','19 Aug 00:00','23 Aug 16:00','26 Aug 08:00','31 Aug 00:00','2 Sep 16:00','7 Sep 08:00','12 Sep 00:00','14 Sep 16:00'][datum.value / 16] : ''"}},
  "y":{"field":"r","type":"quantitative","title":null,"scale":{"domain":[-1.16,101.32],"nice":false,"zero":false}}}},
{"data":{"name":"rsiRed"},"mark":{"type":"rule","color":"#ff0000","strokeWidth":1.2},
 "encoding":{"x":{"field":"i","type":"quantitative","title":null,"scale":{"domain":[-0.375,212.375],"nice":false,"zero":false}},
  "y":{"field":"r","type":"quantitative","title":null,"scale":{"domain":[-1.16,101.32],"nice":false,"zero":false}},
  "x2":{"field":"i2"},"y2":{"field":"r2"}}},
{"data":{"name":"rsiWhite"},"mark":{"type":"rule","color":"#ffffff","strokeWidth":1.2},
 "encoding":{"x":{"field":"i","type":"quantitative","title":null,"scale":{"domain":[-0.375,212.375],"nice":false,"zero":false}},
  "y":{"field":"r","type":"quantitative","title":null,"scale":{"domain":[-1.16,101.32],"nice":false,"zero":false}},
  "x2":{"field":"i2"},"y2":{"field":"r2"}}},
{"data":{"values":[{"i":0.8,"r":95.0,"t":"RSI(14) 38.4406"}]},"mark":{"type":"text","align":"left","baseline":"middle","color":"#ffffff","font":"DejaVu Sans","fontSize":8.4},
 "encoding":{"x":{"field":"i","type":"quantitative","title":null,"scale":{"domain":[-0.375,212.375],"nice":false,"zero":false}},
  "y":{"field":"r","type":"quantitative","title":null,"scale":{"domain":[-1.16,101.32],"nice":false,"zero":false}},"text":{"field":"t"}}},
{"data":{"values":[{"i":0.6,"r":6.2,"t":"MetaTrader, ? 2001-2005 MetaQuotes Software Corp."}]},"mark":{"type":"text","align":"left","baseline":"middle","color":"#ffffff","font":"DejaVu Sans","fontSize":8.8},
 "encoding":{"x":{"field":"i","type":"quantitative","title":null,"scale":{"domain":[-0.375,212.375],"nice":false,"zero":false}},
  "y":{"field":"r","type":"quantitative","title":null,"scale":{"domain":[-1.16,101.32],"nice":false,"zero":false}},"text":{"field":"t"}}},
{"data":{"values":[{"i":115.8,"r":17.6,"t":"背离的情况就不多说了"}]},"mark":{"type":"text","align":"left","baseline":"middle","color":"#ff0000","font":"Noto Sans CJK SC","fontSize":15.5},
 "encoding":{"x":{"field":"i","type":"quantitative","title":null,"scale":{"domain":[-0.375,212.375],"nice":false,"zero":false}},
  "y":{"field":"r","type":"quantitative","title":null,"scale":{"domain":[-1.16,101.32],"nice":false,"zero":false}},"text":{"field":"t"}}}
]
}
]
}
